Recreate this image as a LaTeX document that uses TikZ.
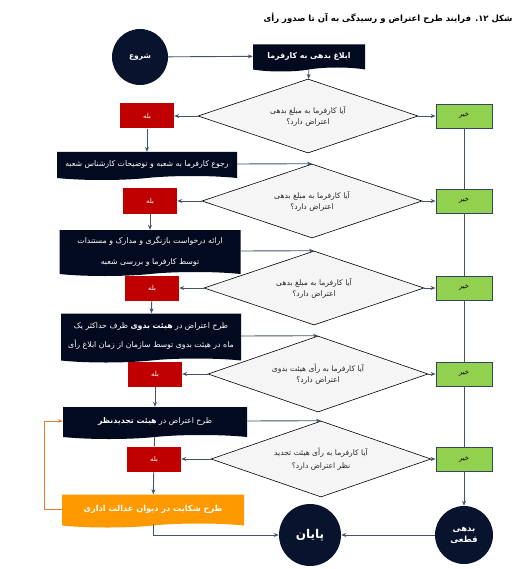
\documentclass[tikz,border=0pt]{standalone}
\usepackage{fontspec}
\usetikzlibrary{shapes.geometric, shapes.symbols, arrows.meta, positioning}
\newfontfamily\farsi[Script=Arabic]{DejaVu Sans}
\TeXXeTstate=1
\newcommand{\fatext}[1]{\beginR #1\endR}

\definecolor{navybox}{RGB}{1,10,30}
\definecolor{navycircle}{RGB}{8,20,45}
\definecolor{yesred}{RGB}{192,0,0}
\definecolor{nogreen}{RGB}{146,208,80}
\definecolor{noborder}{RGB}{50,70,100}
\definecolor{diamondgray}{RGB}{245,245,245}
\definecolor{flowgray}{RGB}{68,84,106}
\definecolor{courtorange}{RGB}{255,153,0}
\definecolor{loopbackorange}{RGB}{237,125,49}

\tikzset{
  docbox/.style={tape, tape bend top=none, tape bend bottom=in and out, tape bend height=4pt,
    fill=navybox, text=white, inner sep=0pt, align=center, font=\farsi\fontsize{7.8}{9}\selectfont},
  decision/.style={diamond, aspect=2.97, draw=black, line width=0.6pt, fill=diamondgray,
    minimum width=220pt, minimum height=74pt, inner sep=0pt, align=center, text=black!85,
    font=\farsi\fontsize{7.6}{9}\selectfont},
  yesbox/.style={rectangle, fill=yesred, minimum width=54pt, minimum height=25pt,
    text=white, font=\farsi\fontsize{6.8}{8}\selectfont},
  nobox/.style={rectangle, fill=nogreen, draw=noborder, line width=0.8pt, minimum width=56pt,
    minimum height=24pt, font=\farsi\fontsize{6.8}{8}\selectfont},
  terminal/.style={circle, fill=navycircle, text=white, inner sep=0pt, align=center},
  flow/.style={draw=flowgray, line width=0.9pt, -{Stealth[length=5pt,width=4pt]}},
  link/.style={draw=flowgray, line width=0.9pt},
  loopback/.style={draw=loopbackorange, line width=1pt, -{Stealth[length=5pt,width=4pt]}}
}

\begin{document}
\begin{tikzpicture}[x=1pt, y=-1pt]
  \useasboundingbox (0,0) rectangle (528,569);

  % Title
  \node[anchor=east, font=\farsi\bfseries\fontsize{8.5}{10}\selectfont] (title) at (516,18)
    {\fatext{شکل \beginL ۱۲\endL. فرایند طرح اعتراض و رسیدگی به آن تا صدور رأی}};

  % Define nodes
  \node[terminal, minimum size=56pt, font=\farsi\bfseries\fontsize{7.5}{9}\selectfont] (start) at (140,57) {\fatext{شروع}};
  \node[docbox, minimum width=112pt, minimum height=27pt, font=\farsi\bfseries\fontsize{7.8}{9}\selectfont] (inform) at (309,56) {\fatext{ابلاغ بدهی به کارفرما}};

  \node[decision] (q1) at (308,116) {\fatext{آیا کارفرما به مبلغ بدهی}\\[2pt]\fatext{اعتراض دارد؟}};
  \node[yesbox] (yes1) at (147,116) {\fatext{بله}};
  \node[nobox] (no1) at (464,116) {\fatext{خیر}};

  \node[docbox, minimum width=180pt, minimum height=28pt] (review) at (147,164) {\fatext{رجوع کارفرما به شعبه و توضیحات کارشناس شعبه}};
  \node[decision] (q2) at (312,201) {\fatext{آیا کارفرما به مبلغ بدهی}\\[2pt]\fatext{اعتراض دارد؟}};
  \node[yesbox] (yes2) at (150,201) {\fatext{بله}};
  \node[nobox] (no2) at (464,201) {\fatext{خیر}};

  \node[docbox, minimum width=181pt, minimum height=46pt] (revision) at (150,251) {\fatext{ارائه درخواست بازنگری و مدارک و مستندات}\\[12pt]\fatext{توسط کارفرما و بررسی شعبه}};
  \node[decision] (q3) at (314,288) {\fatext{آیا کارفرما به مبلغ بدهی}\\[2pt]\fatext{اعتراض دارد؟}};
  \node[yesbox] (yes3) at (152,288) {\fatext{بله}};
  \node[nobox] (no3) at (464,288) {\fatext{خیر}};

  \node[docbox, minimum width=180pt, minimum height=49pt] (primary) at (151,336) {\fatext{طرح اعتراض در {\bfseries هیئت بدوی} ظرف حداکثر یک}\\[9pt]\fatext{ماه در هیئت بدوی توسط سازمان از زمان ابلاغ رأی}};
  \node[decision, minimum height=76pt, aspect=2.9] (q4) at (318,374) {\fatext{آیا کارفرما به رأی هیئت بدوی}\\[2pt]\fatext{اعتراض دارد؟}};
  \node[yesbox] (yes4) at (155,374) {\fatext{بله}};
  \node[nobox] (no4) at (464,374) {\fatext{خیر}};

  \node[docbox, minimum width=184pt, minimum height=32pt] (appeal) at (155,421) {\fatext{طرح اعتراض در {\bfseries هیئت تجدیدنظر}}};
  \node[decision, minimum height=76pt, aspect=2.9] (q5) at (321,459) {\fatext{آیا کارفرما به رأی هیئت تجدید}\\[4pt]\fatext{نظر اعتراض دارد؟}};
  \node[yesbox] (yes5) at (154,459) {\fatext{بله}};
  \node[nobox] (no5) at (464,459) {\fatext{خیر}};

  \node[docbox, fill=courtorange, minimum width=182pt, minimum height=33pt, font=\farsi\bfseries\fontsize{8.2}{10}\selectfont] (court) at (153,509) {\fatext{طرح شکایت در دیوان عدالت اداری}};
  \node[terminal, minimum size=62pt, font=\farsi\bfseries\fontsize{12}{14}\selectfont] (end) at (310,535) {\fatext{پایان}};
  \node[terminal, minimum size=58pt, font=\farsi\bfseries\fontsize{8.5}{11}\selectfont] (final) at (464,535) {\fatext{بدهی}\\\fatext{قطعی}};

  % Connect the nodes
  \draw[flow] (start) -- (inform);
  \draw[flow] (inform) -- (q1);
  \draw[flow] (q1.west) -- (yes1);
  \draw[flow] (q1.east) -- (no1);
  \draw[flow] (yes1) -- (review);
  \draw[flow] (review.east) -- (q2.north);
  \draw[flow] (q2.west) -- (yes2);
  \draw[flow] (q2.east) -- (no2);
  \draw[flow] (yes2) -- (revision);
  \draw[flow] (revision.east) -- (q3.north);
  \draw[flow] (q3.west) -- (yes3);
  \draw[flow] (q3.east) -- (no3);
  \draw[flow] (yes3) -- (primary);
  \draw[flow] (primary.east) -- (q4.north);
  \draw[flow] (q4.west) -- (yes4);
  \draw[flow] (q4.east) -- (no4);
  \draw[flow] (yes4) -- (appeal);
  \draw[flow] (appeal.east) -- (q5.north);
  \draw[link] (appeal) -- (yes5);
  \draw[flow] (q5.west) -- (yes5);
  \draw[flow] (q5.east) -- (no5);
  \draw[flow] (yes5) -- (court);
  \foreach \a/\b in {no1/no2, no2/no3, no3/no4, no4/no5}
    \draw[link] (\a) -- (\b);
  \draw[flow] (no5) -- (final);
  \draw[flow] (final) -- (end);
  \draw[flow] (court.south) |- (end.west);
  \draw[loopback] (court.west) -- ++(-17,0) |- (appeal.west);
\end{tikzpicture}
\end{document}
